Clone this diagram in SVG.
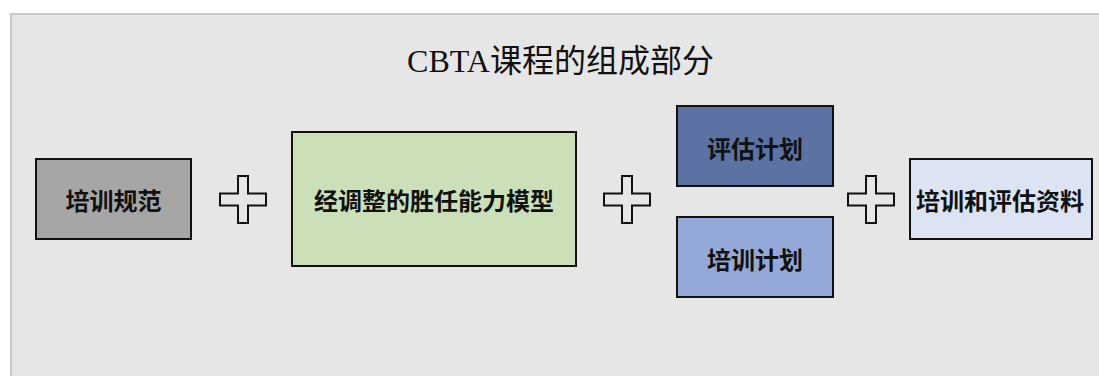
<svg xmlns="http://www.w3.org/2000/svg" xmlns:xlink="http://www.w3.org/1999/xlink" width="1099" height="376" viewBox="0 0 1099 376">
  <style>
    .box { stroke: #111; stroke-width: 2; }
    .lbl { font-family: "Noto Sans CJK SC", "Noto Sans", sans-serif; font-size: 24px; font-weight: bold; fill: #111; text-anchor: middle; dominant-baseline: central; }
    .title { font-family: "Liberation Serif", "Noto Sans CJK SC", serif; font-size: 32px; fill: #111; text-anchor: middle; }
    .plus { fill: none; stroke: #111; stroke-width: 2; stroke-linejoin: miter; }
  </style>
  <defs>
    <path id="plus" d="M-5,-23.5 H5 V-6 H23 V6 H5 V23.5 H-5 V6 H-23 V-6 H-5 Z"/>
  </defs>
  <rect width="1099" height="376" fill="#ffffff"/>
  <rect x="11" y="14" width="1100" height="380" fill="#e6e6e6" stroke="#c9c9c9" stroke-width="2"/>
  <g id="title">
    <text x="560.5" y="72" class="title">CBTA课程的组成部分</text>
  </g>
  <g id="node-training-spec">
    <rect class="box" x="36" y="159" width="155" height="80" fill="#a6a6a6"/>
    <text class="lbl" x="113.5" y="199">培训规范</text>
  </g>
  <g id="node-competency-model">
    <rect class="box" x="292" y="132" width="284" height="134" fill="#cbdfb8"/>
    <text class="lbl" x="434" y="199">经调整的胜任能力模型</text>
  </g>
  <g id="node-assessment-plan">
    <rect class="box" x="677" y="106" width="156" height="80" fill="#5b72a3"/>
    <text class="lbl" x="755" y="147">评估计划</text>
  </g>
  <g id="node-training-plan">
    <rect class="box" x="677" y="217" width="156" height="80" fill="#94a9d7"/>
    <text class="lbl" x="755" y="258">培训计划</text>
  </g>
  <g id="node-materials">
    <rect class="box" x="910" y="159" width="182" height="80" fill="#dce3f3"/>
    <text class="lbl" x="1000" y="199">培训和评估资料</text>
  </g>
  <g id="connectors">
    <use xlink:href="#plus" href="#plus" class="plus" x="243" y="199.5"/>
    <use xlink:href="#plus" href="#plus" class="plus" x="627" y="199.5"/>
    <use xlink:href="#plus" href="#plus" class="plus" x="871" y="199.5"/>
  </g>
</svg>
